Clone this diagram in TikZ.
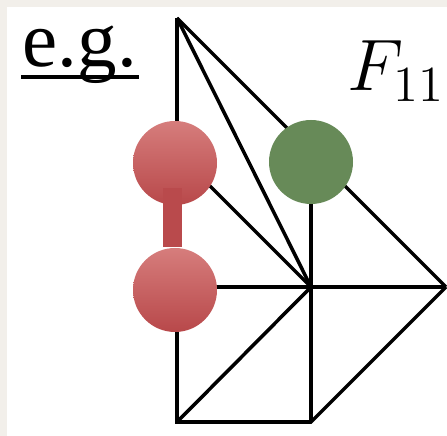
\documentclass[tikz,border=0pt]{standalone}
\usepackage{tikz}
\usepackage{xcolor}
\usepackage{fontspec}
\newfontfamily\egfont{Liberation Serif}
\usetikzlibrary{calc}

\definecolor{paper}{HTML}{F2EFEA}
\definecolor{redtop}{HTML}{D67D7C}
\definecolor{redbot}{HTML}{B8484A}
\definecolor{redbar}{HTML}{B94A4C}
\definecolor{leaf}{HTML}{678A58}

\begin{document}
\begin{tikzpicture}[line width=1pt, font=\rmfamily,
  redball/.style={circle, minimum size=0.84cm, inner sep=0pt, top color=redtop, bottom color=redbot},
  greenball/.style={circle, minimum size=0.84cm, inner sep=0pt, fill=leaf}]

  % Background
  \useasboundingbox (0,0) rectangle (4.47,4.36);
  \fill[paper] (0,0) rectangle (4.47,4.36);
  \fill[white] (0.07,0) rectangle (4.47,4.29);

  % Define key coordinates (grid vertices)
  \coordinate (T) at (1.77, 4.18);    % Top
  \coordinate (A) at (1.77, 2.83);    % under red ball 1
  \coordinate (B) at (1.77, 1.49);    % under red ball 2
  \coordinate (D) at (1.77, 0.14);    % Bottom left
  \coordinate (C) at (3.11, 1.49);    % Center
  \coordinate (E) at (3.11, 0.14);    % Bottom right
  \coordinate (R) at (4.46, 1.49);    % Right
  \coordinate (G) at (3.11, 2.83);    % under green ball

  % Edges
  \draw (T) -- (A);
  \draw (T) -- (C);
  \draw (T) -- (R);
  \draw (A) -- (C);
  \draw (G) -- (C);
  \draw (B) -- (C) -- (R);
  \draw (B) -- (D) -- (E) -- (R);
  \draw (D) -- (C) -- (E);

  % Balls
  \node[redball] (r1) at (1.75, 2.73) {};
  \fill[redbar] (1.63, 1.89) rectangle (1.82, 2.48);
  \node[redball] (r2) at (1.75, 1.46) {};
  \node[greenball] (g1) at (3.11, 2.74) {};

  % Labels
  \node[anchor=base west, inner sep=0pt] (eg) at (0.21, 3.69) {\egfont\fontsize{22.5}{27}\selectfont e.g.};
  \draw[line width=0.9pt] ($(eg.base west)+(0,-0.1)$) -- ($(eg.base east)+(0,-0.1)$);
  \node[anchor=base west, inner sep=0pt] (name) at (3.46, 3.45) {\fontsize{19.5}{23}\selectfont $F_{11}$};
\end{tikzpicture}
\end{document}
